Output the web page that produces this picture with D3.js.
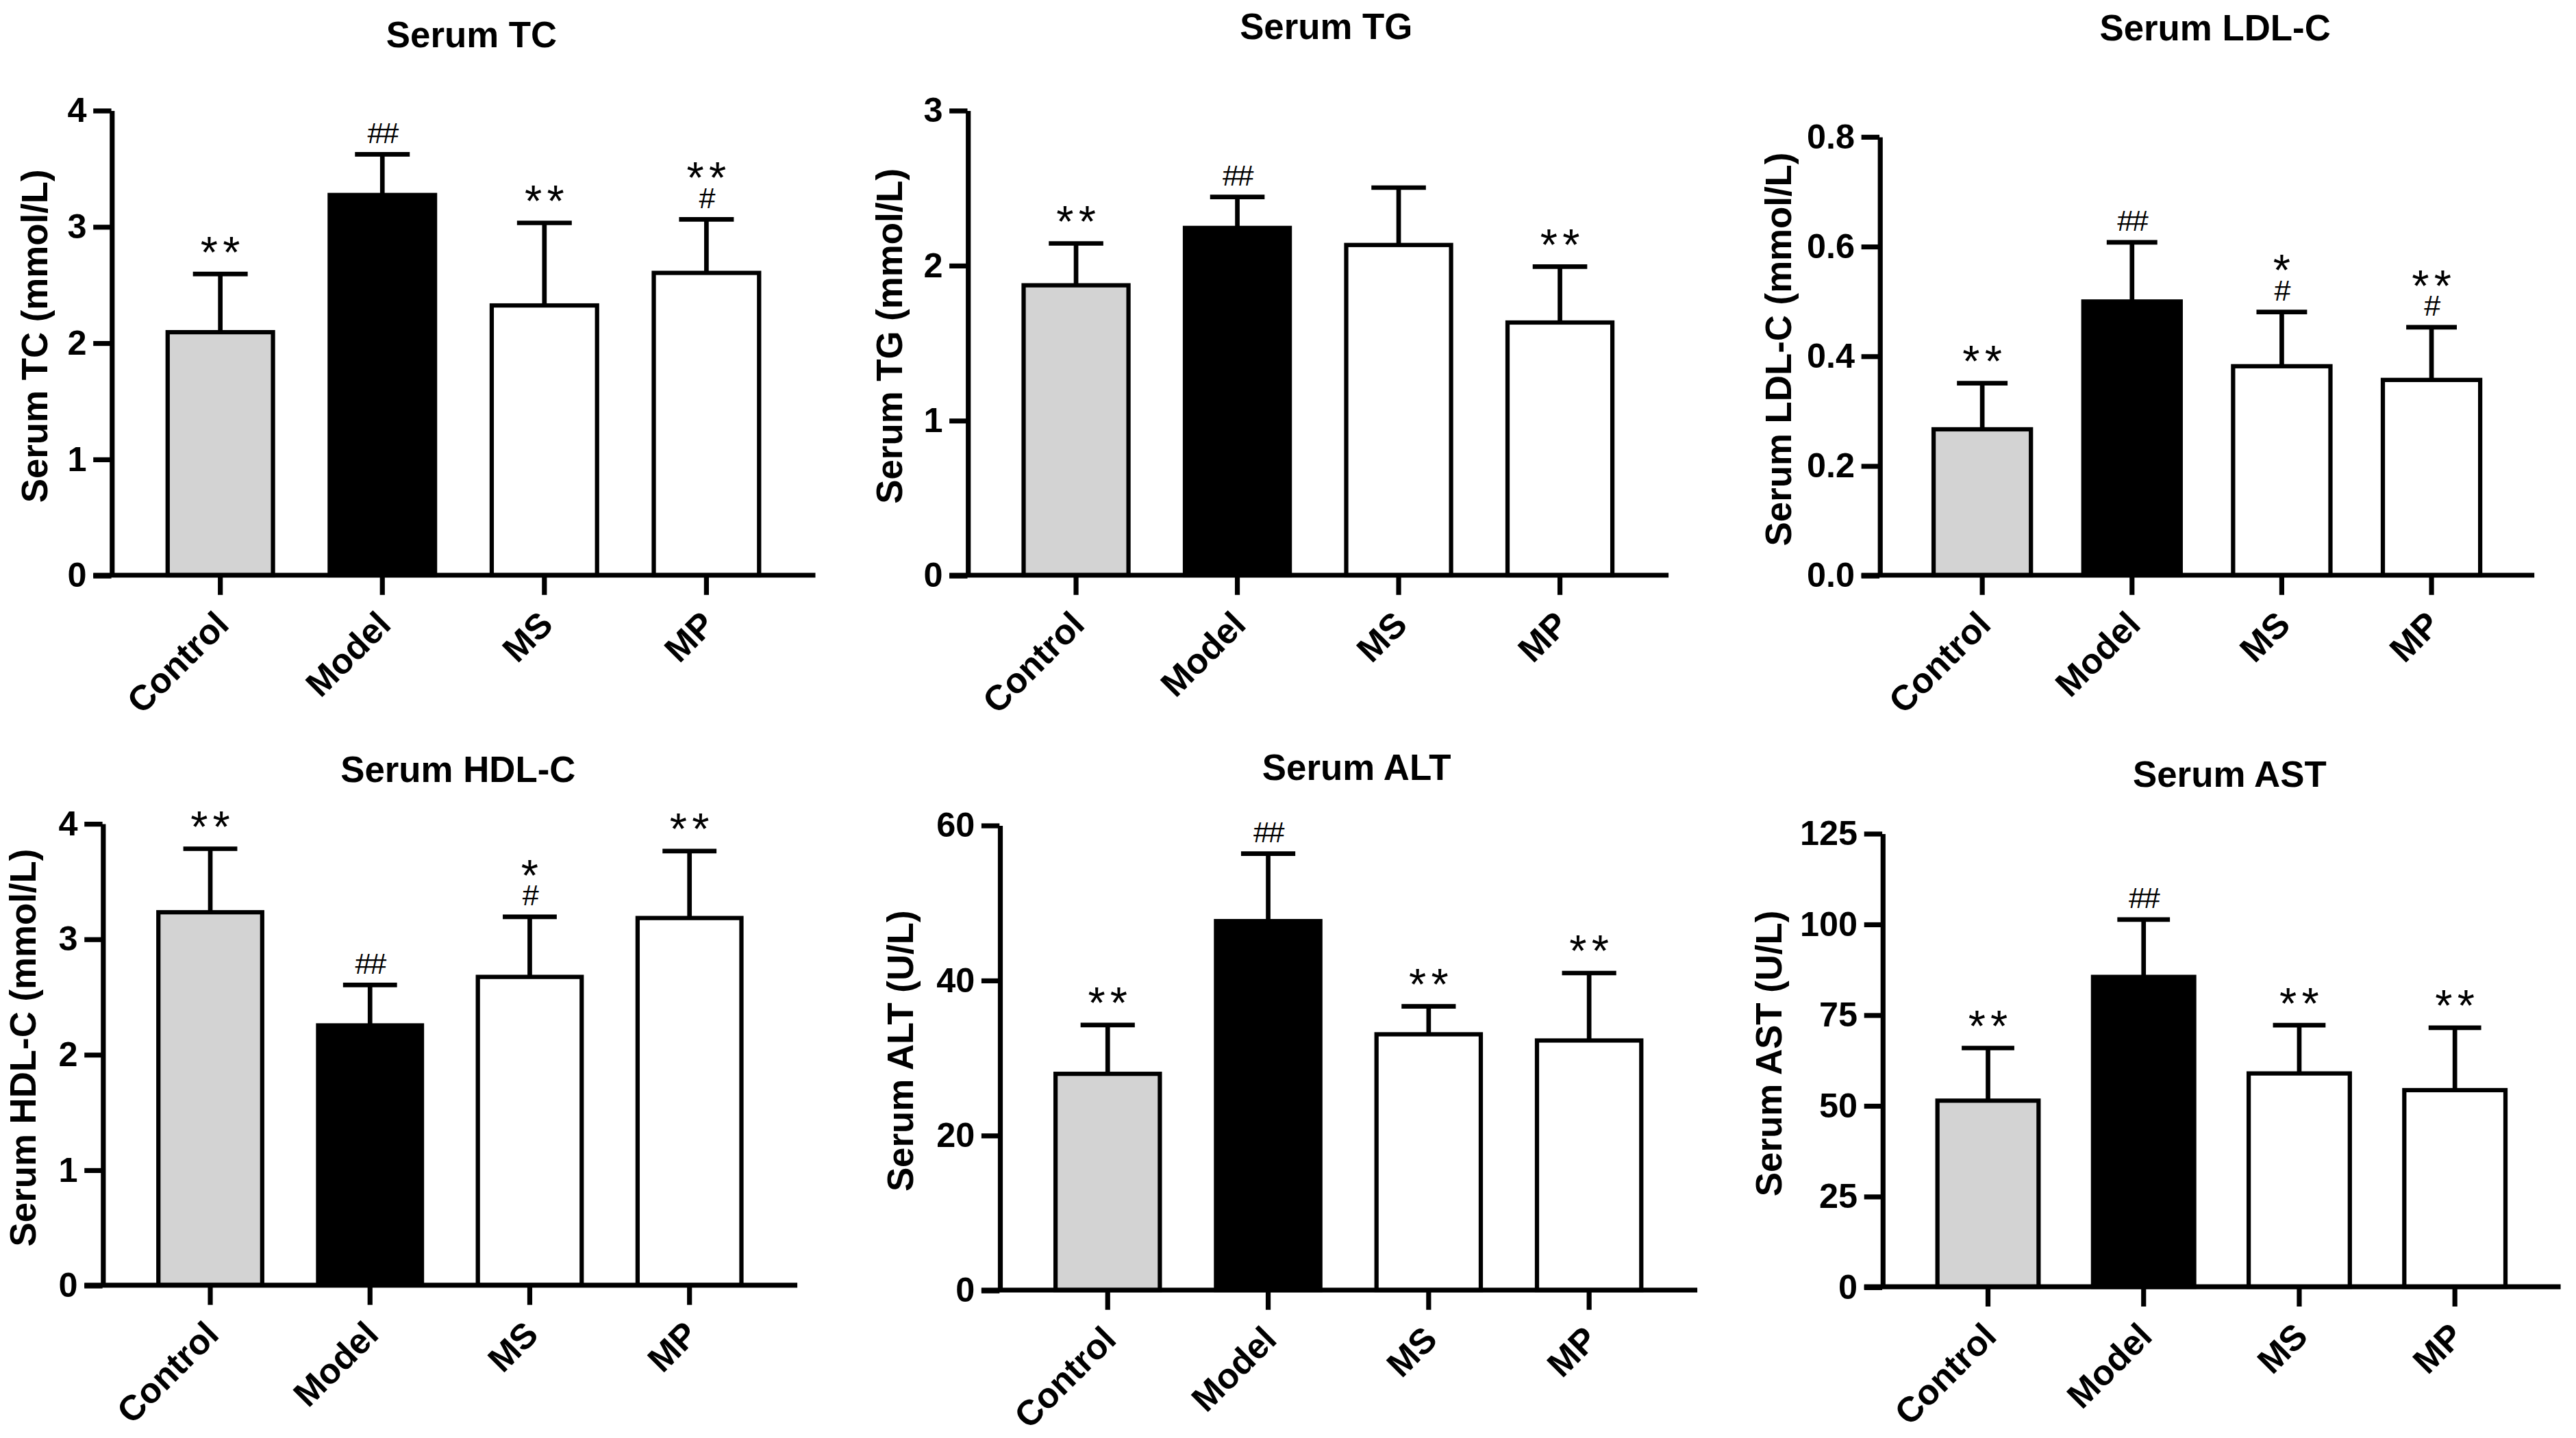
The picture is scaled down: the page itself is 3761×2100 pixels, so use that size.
<!DOCTYPE html>
<html>
<head>
<meta charset="utf-8">
<script src="https://cdn.jsdelivr.net/npm/d3@7"></script>
<style>
  html, body { margin: 0; padding: 0; background: #fff; }
  svg { display: block; font-family: "Liberation Sans", Arial, sans-serif; }
</style>
</head>
<body>
<div id="chart"></div>
<script>
// Groups shown in every panel
const groups = ["Control", "Model", "MS", "MP"];

// Serum TC (mmol/L)
const tcMean = [2.09, 3.27, 2.32, 2.60];
const tcSd = [0.50, 0.35, 0.71, 0.46];
const tcStars = ["**", "", "**", "**"];
const tcHash = ["", "##", "", "#"];
const tcTicks = [0, 1, 2, 3, 4];

// Serum TG (mmol/L)
const tgMean = [1.87, 2.24, 2.13, 1.63];
const tgSd = [0.27, 0.20, 0.37, 0.36];
const tgStars = ["**", "", "", "**"];
const tgHash = ["", "##", "", ""];
const tgTicks = [0, 1, 2, 3];

// Serum LDL-C (mmol/L)
const ldlMean = [0.266, 0.499, 0.381, 0.356];
const ldlSd = [0.084, 0.108, 0.099, 0.096];
const ldlStars = ["**", "", "*", "**"];
const ldlHash = ["", "##", "#", "#"];
const ldlTicks = [0, 0.2, 0.4, 0.6, 0.8];

// Serum HDL-C (mmol/L)
const hdlMean = [3.23, 2.25, 2.67, 3.18];
const hdlSd = [0.55, 0.35, 0.52, 0.58];
const hdlStars = ["**", "", "*", "**"];
const hdlHash = ["", "##", "#", ""];
const hdlTicks = [0, 1, 2, 3, 4];

// Serum ALT (U/L)
const altMean = [27.9, 47.6, 33.0, 32.2];
const altSd = [6.3, 8.7, 3.6, 8.7];
const altStars = ["**", "", "**", "**"];
const altHash = ["", "##", "", ""];
const altTicks = [0, 20, 40, 60];

// Serum AST (U/L)
const astMean = [51.3, 85.4, 58.8, 54.2];
const astSd = [14.5, 15.8, 13.3, 17.2];
const astStars = ["**", "", "**", "**"];
const astHash = ["", "##", "", ""];
const astTicks = [0, 25, 50, 75, 100, 125];

const groupFill = ["#d3d3d3", "#000000", "#ffffff", "#ffffff"];

// panel layout (drawing units, viewBox 1567 x 875)
const panels = [
  { title: "Serum TC", yLabel: "Serum TC (mmol/L)", mean: tcMean, sd: tcSd, stars: tcStars, hash: tcHash, ticks: tcTicks, fmt: "d",
    axisX: 67.7, right: 496, top: 67, bottom: 350, labelX: 21, titleY: 21 },
  { title: "Serum TG", yLabel: "Serum TG (mmol/L)", mean: tgMean, sd: tgSd, stars: tgStars, hash: tgHash, ticks: tgTicks, fmt: "d",
    axisX: 588.5, right: 1015, top: 67, bottom: 350, labelX: 541, titleY: 16 },
  { title: "Serum LDL-C", yLabel: "Serum LDL-C (mmol/L)", mean: ldlMean, sd: ldlSd, stars: ldlStars, hash: ldlHash, ticks: ldlTicks, fmt: ".1f",
    axisX: 1143.3, right: 1541.7, top: 83, bottom: 350, labelX: 1081.7, titleY: 17 },
  { title: "Serum HDL-C", yLabel: "Serum HDL-C (mmol/L)", mean: hdlMean, sd: hdlSd, stars: hdlStars, hash: hdlHash, ticks: hdlTicks, fmt: "d",
    axisX: 62.3, right: 485, top: 501, bottom: 782, labelX: 14, titleY: 468 },
  { title: "Serum ALT", yLabel: "Serum ALT (U/L)", mean: altMean, sd: altSd, stars: altStars, hash: altHash, ticks: altTicks, fmt: "d",
    axisX: 608, right: 1032.5, top: 502, bottom: 785, labelX: 547.5, titleY: 467 },
  { title: "Serum AST", yLabel: "Serum AST (U/L)", mean: astMean, sd: astSd, stars: astStars, hash: astHash, ticks: astTicks, fmt: "d",
    axisX: 1145, right: 1557.7, top: 507, bottom: 783, labelX: 1076, titleY: 471 }
];

const svg = d3.select("#chart")
  .append("svg")
  .attr("width", 3761)
  .attr("height", 2100)
  .attr("viewBox", "0 0 1567 875");

panels.forEach(p => {
  const g = svg.append("g");

  const y = d3.scaleLinear()
    .domain([0, d3.max(p.ticks)])
    .range([p.bottom, p.top]);

  const x = d3.scaleBand()
    .domain(groups)
    .range([p.axisX + 17, p.right - 17])
    .paddingInner(0.35)
    .paddingOuter(0.175);

  const rows = groups.map((name, i) => ({
    name, i, mean: p.mean[i], sd: p.sd[i], star: p.stars[i], hash: p.hash[i]
  }));

  // error bars (upper only)
  g.selectAll(".err")
    .data(rows)
    .join("line")
    .attr("class", "err")
    .attr("x1", d => x(d.name) + x.bandwidth() / 2)
    .attr("x2", d => x(d.name) + x.bandwidth() / 2)
    .attr("y1", d => y(d.mean))
    .attr("y2", d => y(d.mean + d.sd))
    .attr("stroke", "#000")
    .attr("stroke-width", 2.8);

  g.selectAll(".cap")
    .data(rows)
    .join("line")
    .attr("class", "cap")
    .attr("x1", d => x(d.name) + x.bandwidth() * 0.24)
    .attr("x2", d => x(d.name) + x.bandwidth() * 0.76)
    .attr("y1", d => y(d.mean + d.sd))
    .attr("y2", d => y(d.mean + d.sd))
    .attr("stroke", "#000")
    .attr("stroke-width", 2.8);

  // bars
  g.selectAll(".bar")
    .data(rows)
    .join("rect")
    .attr("class", "bar")
    .attr("x", d => x(d.name))
    .attr("y", d => y(d.mean))
    .attr("width", x.bandwidth())
    .attr("height", d => p.bottom - y(d.mean))
    .attr("fill", d => groupFill[d.i])
    .attr("stroke", "#000")
    .attr("stroke-width", 2.6);

  // significance marks: one text per bar, stars stacked over hashes
  const marks = g.selectAll(".mark")
    .data(rows.filter(d => d.star || d.hash))
    .join("text")
    .attr("class", "mark")
    .attr("text-anchor", "middle");

  marks.filter(d => d.star)
    .append("tspan")
    .attr("x", d => x(d.name) + x.bandwidth() / 2 + 1.5)
    .attr("y", d => y(d.mean + d.sd) - (d.hash ? 16 : 4))
    .attr("font-size", 27)
    .attr("letter-spacing", 3)
    .text(d => d.star);

  marks.filter(d => d.hash)
    .append("tspan")
    .attr("x", d => x(d.name) + x.bandwidth() / 2)
    .attr("y", d => y(d.mean + d.sd) - 7)
    .attr("font-size", 18)
    .attr("letter-spacing", -1)
    .text(d => d.hash);

  // y axis
  const yAxis = g.append("g")
    .attr("transform", `translate(${p.axisX},0)`)
    .call(d3.axisLeft(y)
      .tickValues(p.ticks)
      .tickFormat(d3.format(p.fmt))
      .tickSize(11)
      .tickSizeOuter(0)
      .tickPadding(4));
  yAxis.select(".domain").attr("stroke-width", 3);
  yAxis.selectAll(".tick line").attr("stroke-width", 3);
  yAxis.selectAll(".tick text")
    .attr("font-size", 21)
    .attr("font-weight", "bold")
    .attr("font-family", "'Liberation Sans', Arial, sans-serif")
    .attr("fill", "#000");

  // x axis baseline, extended left to meet the 0 tick
  g.append("line")
    .attr("x1", p.axisX - 11)
    .attr("x2", p.right)
    .attr("y1", p.bottom)
    .attr("y2", p.bottom)
    .attr("stroke", "#000")
    .attr("stroke-width", 3);

  const xAxis = g.append("g")
    .attr("transform", `translate(0,${p.bottom})`)
    .call(d3.axisBottom(x).tickSize(12).tickSizeOuter(0));
  xAxis.select(".domain").remove();
  xAxis.selectAll(".tick line").attr("stroke-width", 3);
  xAxis.selectAll(".tick text")
    .attr("x", 0)
    .attr("y", 0)
    .attr("dy", "0.35em")
    .attr("text-anchor", "end")
    .attr("transform", "translate(1,26) rotate(-45)")
    .attr("font-size", 21.5)
    .attr("font-weight", "bold")
    .attr("font-family", "'Liberation Sans', Arial, sans-serif")
    .attr("fill", "#000");

  // titles
  g.append("text")
    .attr("x", (p.axisX + p.right) / 2 + 5)
    .attr("y", p.titleY)
    .attr("dy", "0.35em")
    .attr("text-anchor", "middle")
    .attr("font-size", 22)
    .attr("font-weight", "bold")
    .text(p.title);

  g.append("text")
    .attr("transform", `translate(${p.labelX},${(p.top + p.bottom) / 2 - 4}) rotate(-90)`)
    .attr("dy", "0.35em")
    .attr("text-anchor", "middle")
    .attr("font-size", 22)
    .attr("font-weight", "bold")
    .text(p.yLabel);
});
</script>
</body>
</html>
